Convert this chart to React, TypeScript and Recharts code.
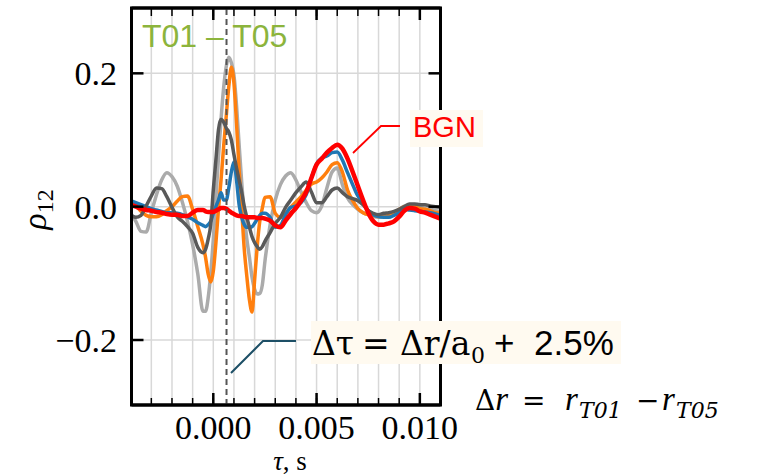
import {
  LineChart, Line, XAxis, YAxis, CartesianGrid, ReferenceLine, ReferenceArea,
} from "recharts";

// time lag, s (finer step around the main peak)
const TAU = [
  -0.004, -0.00375, -0.0035, -0.00325, -0.003, -0.00275, -0.0025, -0.00225, -0.002, -0.00175, -0.0015, -0.00125, -0.001, -0.00075,
  -0.0005, -0.000375, -0.00025, -0.000125, 0, 0.000125, 0.00025, 0.000375, 0.0005, 0.000625, 0.00075, 0.000875, 0.001,
  0.001125, 0.00125, 0.001375, 0.0015, 0.001625, 0.00175, 0.001875, 0.002, 0.002125, 0.00225, 0.002375, 0.0025,
  0.00275, 0.003, 0.00325, 0.0035, 0.00375, 0.004, 0.00425, 0.0045, 0.00475, 0.005, 0.00525, 0.0055, 0.00575, 0.006,
  0.00625, 0.0065, 0.00675, 0.007, 0.00725, 0.0075, 0.00775, 0.008, 0.00825, 0.0085, 0.00875, 0.009, 0.00925, 0.0095,
  0.00975, 0.01, 0.01025, 0.0105, 0.01075, 0.011,
];

const LIGHT_GRAY = [
  -0.010, -0.022, -0.037, -0.038, -0.009, 0.018, 0.040, 0.051, 0.045, 0.031, 0.007, -0.022, -0.057, -0.101,
  -0.157, -0.157, -0.137, -0.100, -0.049, 0.012, 0.073, 0.131, 0.178, 0.210, 0.224, 0.216, 0.197,
  0.152, 0.093, 0.037, -0.012, -0.049, -0.076, -0.106, -0.124, -0.131, -0.130, -0.117, -0.082,
  -0.027, 0.010, 0.033, 0.046, 0.051, 0.040, 0.022, 0.006, -0.006, -0.009, 0.001, 0.028, 0.052, 0.058,
  0.033, 0.013, 0.003, -0.004, -0.009, -0.012, -0.015, -0.016, -0.015, -0.013, -0.009, -0.004, 0.001,
  0.003, 0.001, -0.001, -0.003, -0.004, -0.006, -0.007,
];

const ORANGE = [
  0.010, 0.002, -0.007, -0.013, -0.015, -0.015, -0.012, -0.006, 0.000, 0.008, 0.015, 0.016, -0.004, -0.030,
  -0.057, -0.076, -0.101, -0.113, -0.097, -0.055, -0.004, 0.040, 0.090, 0.135, 0.180, 0.209, 0.185,
  0.125, 0.055, -0.004, -0.064, -0.105, -0.140, -0.158, -0.110, -0.060, -0.022, -0.002, 0.014,
  0.015, -0.010, -0.016, -0.010, -0.001, 0.007, 0.015, 0.025, 0.034, 0.037, 0.043, 0.052, 0.063, 0.066,
  0.052, 0.025, 0.009, -0.003, -0.009, -0.012, -0.013, -0.015, -0.013, -0.012, -0.009, -0.004, 0.000,
  0.001, 0.000, -0.003, -0.004, -0.006, -0.009, -0.010,
];

const BLUE = [
  0.009, 0.006, 0.003, 0.000, -0.003, -0.005, -0.007, -0.009, -0.009, -0.010, -0.012, -0.015, -0.019, -0.024,
  -0.028, -0.030, -0.027, -0.022, -0.010, 0.000, 0.010, 0.021, 0.010, 0.010, 0.028, 0.052, 0.067,
  0.040, 0.003, -0.016, -0.027, -0.031, -0.031, -0.030, -0.025, -0.019, -0.013, -0.010, -0.010,
  -0.016, -0.031, -0.028, -0.012, -0.001, 0.001, 0.006, 0.018, 0.043, 0.064, 0.073, 0.076, 0.081, 0.082,
  0.070, 0.051, 0.033, 0.016, 0.006, -0.006, -0.012, -0.015, -0.016, -0.016, -0.013, -0.009, -0.004,
  -0.005, -0.006, -0.007, -0.008, -0.009, -0.011, -0.013,
];

const DARK_GRAY = [
  -0.013, -0.016, -0.013, 0.001, 0.016, 0.028, 0.027, 0.015, -0.001, -0.015, -0.022, -0.030, -0.040, -0.061,
  -0.069, -0.064, -0.049, -0.027, 0.025, 0.070, 0.115, 0.131, 0.127, 0.118, 0.112, 0.100, 0.078,
  0.058, 0.040, 0.022, 0.000, -0.016, -0.031, -0.045, -0.054, -0.060, -0.064, -0.060, -0.052,
  -0.039, -0.025, -0.016, -0.001, 0.010, 0.021, 0.030, 0.037, 0.022, 0.006, 0.006, 0.015, 0.025, 0.028,
  0.021, 0.015, 0.012, 0.009, 0.003, -0.006, -0.010, -0.012, -0.010, -0.009, -0.007, -0.004, 0.000,
  0.004, 0.004, 0.003, 0.003, 0.001, 0.000, -0.001,
];

// BGN
const RED = [
  0.003, 0.000, -0.003, -0.005, -0.006, -0.008, -0.009, -0.011, -0.012, -0.012, -0.014, -0.014, -0.009, -0.005,
  -0.005, -0.007, -0.008, -0.008, -0.008, -0.006, -0.004, -0.002, -0.002, -0.003, -0.006, -0.009, -0.011,
  -0.013, -0.014, -0.014, -0.015, -0.016, -0.016, -0.016, -0.016, -0.017, -0.017, -0.017, -0.018,
  -0.021, -0.028, -0.031, -0.021, -0.011, -0.002, 0.009, 0.022, 0.043, 0.063, 0.072, 0.081, 0.088, 0.093,
  0.087, 0.072, 0.052, 0.031, 0.010, -0.009, -0.022, -0.027, -0.027, -0.025, -0.022, -0.015, -0.006,
  -0.002, -0.003, -0.007, -0.009, -0.012, -0.015, -0.018,
];

const X_MAJOR = [0, 0.005, 0.01];
const X_MINOR = [-0.003, -0.002, -0.001, 0, 0.001, 0.002, 0.003, 0.004, 0.005, 0.006, 0.007, 0.008, 0.009, 0.01];
const Y_TICKS = [-0.2, 0, 0.2];
const DELTA_TAU = 0.00064;

const X_DOMAIN: [number, number] = [-0.00396, 0.011];
const Y_DOMAIN: [number, number] = [-0.2975, 0.298];

const data = TAU.map((t, i) => ({
  tau: t,
  lgray: LIGHT_GRAY[i],
  orange: ORANGE[i],
  blue: BLUE[i],
  dgray: DARK_GRAY[i],
  red: RED[i],
}));

const SERIF = "'Liberation Serif', 'Times New Roman', serif";
const SANS = "'Liberation Sans', Arial, sans-serif";
const MATH = "'DejaVu Serif', serif";

const EmptyTick = () => <g />;

function fmtY(v: number) {
  if (v === 0) return "0.0";
  return v < 0 ? "\u2212" + Math.abs(v).toFixed(1) : v.toFixed(1);
}

function YLabel(props: any) {
  const vb = props.viewBox || { x: 0, y: 0, height: 0 };
  const cy = vb.y + vb.height / 2 + 3;
  return (
    <text transform={`translate(${vb.x + 46},${cy}) rotate(-90)`} textAnchor="middle"
      fontFamily={SERIF} fontSize={34} fill="#000">
      <tspan fontStyle="italic">ρ</tspan>
      <tspan fontSize={24} dy={7}>12</tspan>
    </text>
  );
}

function XLabel(props: any) {
  const vb = props.viewBox || { x: 0, y: 0, width: 0 };
  return (
    <text x={vb.x + vb.width / 2 + 4} y={vb.y + 65} textAnchor="middle"
      fontFamily={SERIF} fontSize={27} fill="#000">
      <tspan fontStyle="italic">τ</tspan>, s
    </text>
  );
}

const lineProps = {
  xAxisId: "main",
  yAxisId: "left",
  type: "monotone" as const,
  dot: false,
  isAnimationActive: false,
};

// invisible series that only bind the tick-only axes
const hiddenProps = {
  dataKey: "red",
  type: "linear" as const,
  stroke: "none",
  dot: false,
  activeDot: false,
  legendType: "none" as const,
  isAnimationActive: false,
};

const tickLine = { stroke: "#000", strokeWidth: 1.5 };
const majorLine = { stroke: "#000", strokeWidth: 2.5 };
const frameLine = { stroke: "#000", strokeWidth: 3 };

export default function App() {
  return (
    <div style={{ position: "absolute", left: 0, top: 0, width: 764, height: 476, background: "#fff" }}>
      <LineChart width={764} height={476} data={data}
        margin={{ top: 8, right: 323.5, bottom: 0, left: 0 }}>
        <XAxis xAxisId="minor" dataKey="tau" type="number" orientation="bottom" mirror height={1}
          domain={X_DOMAIN} allowDataOverflow ticks={X_MINOR} tickSize={7} tick={EmptyTick}
          interval={0} axisLine={false} tickLine={tickLine} />
        <XAxis xAxisId="majorTop" dataKey="tau" type="number" orientation="top" mirror height={1}
          domain={X_DOMAIN} allowDataOverflow ticks={X_MAJOR} tickSize={12} tick={EmptyTick}
          interval={0} axisLine={frameLine} tickLine={majorLine} />
        <XAxis xAxisId="minorTop" dataKey="tau" type="number" orientation="top" mirror height={1}
          domain={X_DOMAIN} allowDataOverflow ticks={X_MINOR} tickSize={7} tick={EmptyTick}
          interval={0} axisLine={false} tickLine={tickLine} />
        <XAxis xAxisId="main" dataKey="tau" type="number" orientation="bottom" height={71}
          domain={X_DOMAIN} allowDataOverflow ticks={X_MAJOR} tickSize={-12} tickMargin={22}
          interval={0} tickFormatter={(v: number) => v.toFixed(3)}
          tick={{ fontFamily: SERIF, fontSize: 34, fill: "#000" }}
          axisLine={frameLine} tickLine={majorLine}
          label={<XLabel />} />
        <YAxis yAxisId="right" type="number" orientation="right" mirror width={1}
          domain={Y_DOMAIN} allowDataOverflow ticks={Y_TICKS} tickSize={12} tick={EmptyTick}
          interval={0} axisLine={frameLine} tickLine={majorLine} />
        <YAxis yAxisId="left" type="number" orientation="left" width={131.5}
          domain={Y_DOMAIN} allowDataOverflow ticks={Y_TICKS} tickSize={-12} tickMargin={26.5}
          interval={0} tickFormatter={fmtY}
          tick={{ fontFamily: SERIF, fontSize: 34, fill: "#000" }}
          axisLine={frameLine} tickLine={majorLine}
          label={<YLabel />} />
        <CartesianGrid xAxisId="main" yAxisId="left" stroke="#d8d8d8" strokeWidth={1.5}
          verticalValues={X_MINOR} horizontalValues={Y_TICKS} />
        <Line {...hiddenProps} xAxisId="minor" yAxisId="right" />
        <Line {...hiddenProps} xAxisId="majorTop" yAxisId="right" />
        <Line {...hiddenProps} xAxisId="minorTop" yAxisId="right" />
        <Line {...lineProps} dataKey="lgray" stroke="#ababab" strokeWidth={3.5} />
        <Line {...lineProps} dataKey="orange" stroke="#ff7f0e" strokeWidth={3.5} />
        <Line {...lineProps} dataKey="blue" stroke="#1f77b4" strokeWidth={3.5} />
        <Line {...lineProps} dataKey="dgray" stroke="#595959" strokeWidth={3.5} />
        <Line {...lineProps} dataKey="red" stroke="#ff0000" strokeWidth={4.5} />
        <ReferenceLine xAxisId="main" yAxisId="left" x={DELTA_TAU} stroke="#555555"
          strokeWidth={2} strokeDasharray="6 4" />
        <ReferenceArea xAxisId="main" yAxisId="left" x1={X_DOMAIN[0]} x2={X_DOMAIN[1]}
          y1={Y_DOMAIN[0]} y2={Y_DOMAIN[1]} fill="none" stroke="#000" strokeWidth={3} ifOverflow="visible" />
      </LineChart>

      <svg width={764} height={476} style={{ position: "absolute", left: 0, top: 0, pointerEvents: "none" }}>
        <text x={142} y={47} fontFamily={SANS} fontSize={32} fill="#8cb43c">T01 – T05</text>

        <polyline points="353,153 381,126 400,126" fill="none" stroke="#ff0000" strokeWidth={1.8} />
        <rect x={410} y={110} width={73} height={37} fill="#fffaf0" />
        <text x={413} y={137} fontFamily={SANS} fontSize={29} fill="#ff0000">BGN</text>

        <polyline points="231,373 263,341 296,341" fill="none" stroke="#1d4f66" strokeWidth={2} />
        <rect x={311} y={321} width={310} height={43} fill="#fffaf0" />
        <text y={355} fontFamily={MATH} fontSize={33} fill="#000">
          <tspan x={312}>Δτ</tspan>
          <tspan x={362}>=</tspan>
          <tspan x={400}>Δr/a</tspan>
          <tspan x={471} dy={8} fontSize={22}>0</tspan>
        </text>
        <text y={355} fontFamily={SANS} fontSize={35} fill="#000">
          <tspan x={494}>+</tspan>
          <tspan x={534}>2.5%</tspan>
        </text>

        <text y={410} fontFamily={MATH} fontSize={28} fill="#000">
          <tspan x={475}>Δ</tspan>
          <tspan fontStyle="italic" fontFamily={SERIF} fontSize={33}>r</tspan>
          <tspan x={522}>=</tspan>
          <tspan x={565} fontStyle="italic" fontFamily={SERIF} fontSize={33}>r</tspan>
          <tspan x={579} dy={8} fontStyle="italic" fontSize={22}>T01</tspan>
          <tspan x={636} dy={-8}>−</tspan>
          <tspan x={662} fontStyle="italic" fontFamily={SERIF} fontSize={33}>r</tspan>
          <tspan x={676} dy={8} fontStyle="italic" fontSize={22}>T05</tspan>
        </text>
      </svg>
    </div>
  );
}
